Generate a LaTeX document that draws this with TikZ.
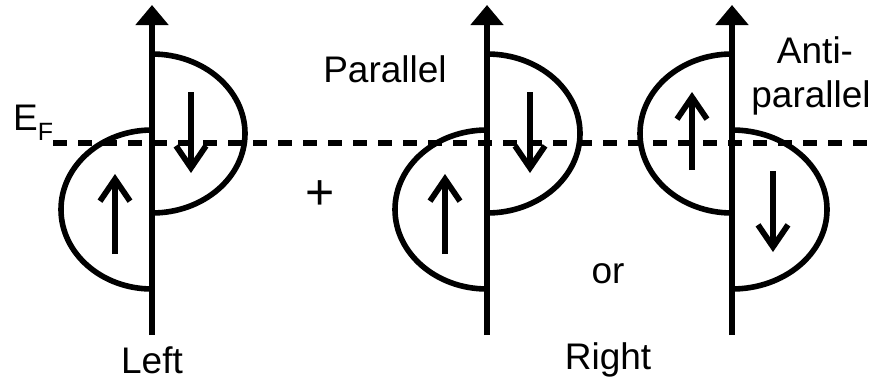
\documentclass[tikz,border=0pt]{standalone}
\usepackage{fontspec}
\setmainfont{Liberation Sans}
\usetikzlibrary{arrows.meta}
\begin{document}
\begin{tikzpicture}[x=1pt,y=-1pt,
  axisline/.style={line width=6.3pt,-{Triangle[width=32pt,length=20pt]}},
  band/.style={line width=5.6pt},
  spin/.style={line width=5.8pt,-{Straight Barb[width=30pt,length=22pt,line width=5.8pt]}},
  efline/.style={line width=6pt,dash pattern=on 14pt off 11pt},
  lbl/.style={inner sep=0pt,anchor=base,font=\fontsize{37}{40}\selectfont}]
\useasboundingbox (0,0) rectangle (874,380);
% axes
\coordinate (a1b) at (152,335); \coordinate (a1t) at (152,5);
\coordinate (a2b) at (487,335); \coordinate (a2t) at (487,5);
\coordinate (a3b) at (732,335); \coordinate (a3t) at (732,5);
% Fermi level
\coordinate (efl) at (53,143); \coordinate (efr) at (874,143);
\draw[efline] (efl) -- (efr);
% Left
\draw[band] (152,54) arc[start angle=-90,end angle=90,x radius=93,y radius=79.5];
\draw[band] (152,130) arc[start angle=270,end angle=90,x radius=91,y radius=79.5];
\coordinate (s1a) at (115,254); \coordinate (s1b) at (115,174);
\coordinate (s2a) at (191,92); \coordinate (s2b) at (191,173);
\draw[spin] (s1a) -- (s1b);
\draw[spin] (s2a) -- (s2b);
\draw[axisline] (a1b) -- (a1t);
% Parallel
\draw[band] (487,54) arc[start angle=-90,end angle=90,x radius=93,y radius=79.5];
\draw[band] (487,130) arc[start angle=270,end angle=90,x radius=92,y radius=79.5];
\coordinate (s3a) at (445,254); \coordinate (s3b) at (445,174);
\coordinate (s4a) at (530,92); \coordinate (s4b) at (530,173);
\draw[spin] (s3a) -- (s3b);
\draw[spin] (s4a) -- (s4b);
\draw[axisline] (a2b) -- (a2t);
% Antiparallel
\draw[band] (732,54) arc[start angle=270,end angle=90,x radius=92,y radius=79.5];
\draw[band] (732,130) arc[start angle=-90,end angle=90,x radius=95,y radius=79.5];
\coordinate (s5a) at (692,170); \coordinate (s5b) at (692,92);
\coordinate (s6a) at (773,171); \coordinate (s6b) at (773,252);
\draw[spin] (s5a) -- (s5b);
\draw[spin] (s6a) -- (s6b);
\draw[axisline] (a3b) -- (a3t);
% labels
\node[lbl,anchor=base west] (ef) at (13,130) {E\raisebox{-10pt}{\fontsize{25}{25}\selectfont F}};
\node[lbl] (left) at (152,373) {Left};
\node[lbl] (right) at (608,369) {Right};
\node[lbl] (or) at (608,283) {or};
\node[lbl,font=\fontsize{50}{50}\selectfont] (plus) at (320,209) {+};
\node[lbl] (par) at (385,82) {Parallel};
\node[lbl] (anti) at (815,63) {Anti-};
\node[lbl] (apar) at (811,107) {parallel};
\end{tikzpicture}
\end{document}
